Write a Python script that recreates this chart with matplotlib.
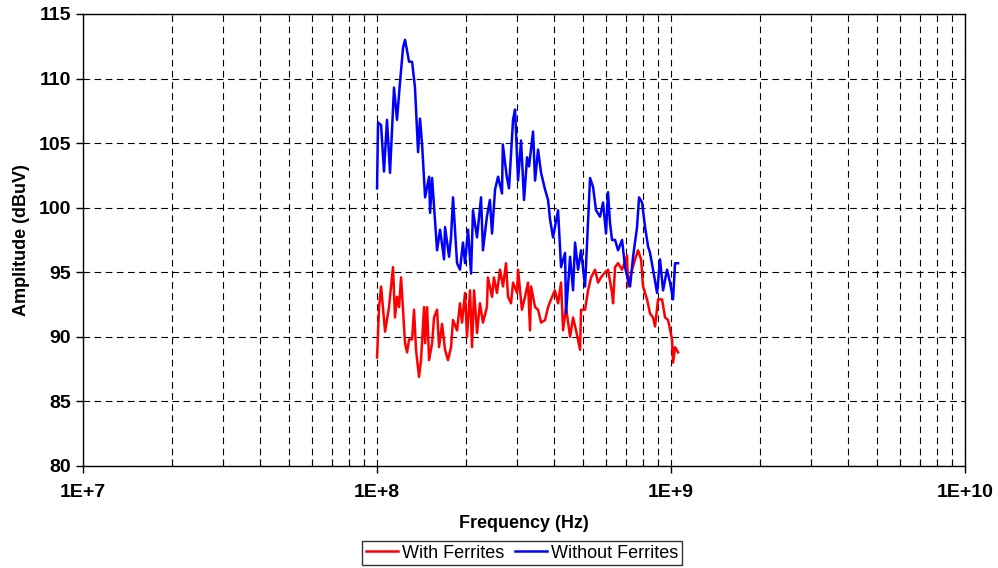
import matplotlib
matplotlib.use("Agg")
import numpy as np
from matplotlib import pyplot as plt
from matplotlib.ticker import LogLocator, FuncFormatter, NullFormatter

plt.rcParams['font.family'] = ['Liberation Sans', 'DejaVu Sans']

# frequencies in MHz, amplitudes in dBuV
freq_without = [100.0, 100.8, 103.2, 105.6, 108.1, 110.7, 114.2, 116.9, 119.7, 122.6,
                124.5, 128.5, 131.6, 134.6, 137.9, 140.0, 142.3, 145.7, 150.3, 151.5,
                153.9, 160.0, 163.8, 169.0, 170.3, 175.8, 178.5, 181.3, 187.1, 191.5,
                196.0, 199.2, 203.9, 208.8, 212.0, 218.8, 225.8, 229.2, 236.4, 242.0,
                246.1, 252.0, 258.0, 266.1, 267.8, 276.2, 281.1, 290.1, 294.7, 301.7,
                308.9, 316.2, 323.8, 328.9, 339.3, 344.7, 352.9, 361.3, 372.8, 381.6,
                387.6, 396.8, 412.7, 422.5, 436.0, 439.3, 453.5, 464.2, 471.5, 482.7,
                494.1, 509.9, 530.3, 542.9, 555.7, 573.4, 587.0, 600.9, 610.4, 620.0,
                630.0, 645.0, 660.3, 681.3, 697.4, 714.1, 725.4, 742.6, 766.2, 778.3,
                796.8, 815.8, 835.2, 848.3, 868.5, 896.2, 917.4, 939.2, 969.2, 992.2,
                1015.8, 1031.8, 1056.3]
amp_without = [101.5, 106.6, 106.4, 102.8, 106.8, 102.7, 109.3, 106.8, 109.7, 112.4,
               113.0, 111.3, 111.3, 109.3, 104.3, 106.9, 104.9, 100.8, 102.4, 99.6,
               102.3, 96.7, 98.3, 96.0, 98.5, 96.2, 97.7, 100.8, 95.7, 95.2,
               97.3, 95.7, 98.3, 94.9, 99.8, 97.7, 100.8, 96.7, 99.3, 100.6,
               98.0, 101.4, 102.4, 101.1, 104.9, 102.4, 101.5, 106.8, 107.6, 102.1,
               105.2, 100.6, 103.9, 103.2, 105.9, 102.1, 104.5, 102.7, 101.4, 100.6,
               99.1, 97.7, 99.8, 95.4, 96.5, 91.8, 96.2, 93.6, 97.3, 95.2,
               96.7, 93.9, 102.3, 101.6, 99.8, 99.3, 100.4, 98.0, 101.2, 98.8,
               97.5, 97.5, 96.7, 97.5, 95.4, 94.4, 93.9, 96.2, 98.5, 100.8,
               100.4, 98.5, 97.0, 96.5, 95.2, 93.4, 96.0, 93.6, 95.2, 94.2,
               92.9, 95.7, 95.7]

freq_with = [100.0, 101.6, 103.2, 106.5, 109.8, 110.7, 113.3, 115.1, 116.9, 118.8,
             120.7, 124.5, 126.5, 128.5, 131.6, 133.6, 135.7, 138.9, 141.1, 144.5,
             145.7, 148.0, 150.3, 153.9, 156.3, 160.0, 162.5, 166.4, 170.3, 174.3,
             178.5, 181.3, 187.1, 191.5, 194.5, 199.2, 202.3, 207.1, 210.4, 213.8,
             218.8, 223.9, 229.2, 236.4, 238.3, 246.1, 249.8, 255.8, 262.0, 268.2,
             274.6, 279.0, 285.6, 290.1, 299.4, 301.7, 311.0, 318.7, 326.2, 331.4,
             334.1, 344.7, 352.9, 361.3, 372.8, 381.6, 390.6, 402.6, 412.7, 422.5,
             429.2, 439.3, 453.5, 464.2, 475.2, 490.4, 494.1, 509.9, 522.1, 534.5,
             551.4, 564.5, 577.9, 596.2, 610.4, 630.0, 635.0, 645.0, 660.3, 681.3,
             708.6, 714.1, 736.9, 754.3, 772.2, 790.6, 803.1, 828.6, 848.3, 868.5,
             882.3, 903.3, 932.0, 954.2, 977.0, 1007.9, 1015.8, 1031.8, 1056.3]
amp_with = [88.4, 92.3, 93.9, 90.4, 92.3, 93.1, 95.4, 91.5, 93.1, 92.3,
            94.6, 89.5, 88.8, 89.8, 89.8, 92.1, 89.0, 86.9, 88.2, 92.3,
            89.5, 92.3, 88.2, 89.5, 91.5, 92.1, 89.2, 91.0, 89.0, 88.2,
            89.2, 91.3, 90.5, 92.6, 91.1, 93.4, 90.0, 93.6, 89.2, 93.6,
            90.3, 92.6, 91.1, 92.3, 94.6, 93.1, 94.6, 93.4, 95.2, 93.9,
            95.7, 93.1, 92.6, 94.2, 93.4, 95.2, 92.1, 93.1, 94.2, 90.5,
            93.9, 92.3, 92.1, 91.1, 91.3, 92.3, 92.9, 93.6, 92.6, 94.2,
            90.5, 92.3, 90.0, 91.5, 90.5, 89.0, 92.1, 92.1, 93.6, 94.6,
            95.2, 94.2, 94.6, 95.0, 95.2, 93.4, 92.6, 95.4, 95.7, 95.2,
            96.3, 93.9, 95.2, 96.0, 96.7, 96.0, 93.9, 92.9, 91.8, 91.5,
            90.8, 92.9, 92.9, 91.5, 91.3, 89.8, 88.0, 89.2, 88.8]

fig = plt.figure(figsize=(9.98, 5.68), dpi=100)
ax = fig.add_axes([0.0832, 0.1796, 0.8838, 0.7958])

ax.plot(np.array(freq_with) * 1e6, amp_with, color='#ff0000', lw=1.8, label='With Ferrites')
ax.plot(np.array(freq_without) * 1e6, amp_without, color='#0000ff', lw=1.8, label='Without Ferrites')

ax.set_xscale('log')
ax.set_xlim(1e7, 1e10)
ax.set_ylim(80, 115)
ax.set_yticks(range(80, 116, 5))
ax.xaxis.set_major_locator(LogLocator(base=10, numticks=10))
ax.xaxis.set_minor_locator(LogLocator(base=10, subs=np.arange(2, 10), numticks=20))
ax.xaxis.set_major_formatter(FuncFormatter(lambda v, p: '1E+%d' % round(np.log10(v))))
ax.xaxis.set_minor_formatter(NullFormatter())

ax.grid(True, which='both', axis='x', color='black', ls=(0, (6, 4)), lw=0.8)
ax.grid(True, which='major', axis='y', color='black', ls=(0, (6, 4)), lw=0.8)
ax.set_axisbelow(True)

ax.tick_params(axis='both', which='major', direction='out', length=5, width=1, labelsize=14)
ax.tick_params(axis='x', which='major', pad=8)
ax.tick_params(axis='x', which='minor', direction='in', length=5, width=0.8)
for lab in ax.get_xticklabels() + ax.get_yticklabels():
    lab.set_fontweight('bold')
for s in ax.spines.values():
    s.set_linewidth(1)

ax.set_xlabel('Frequency (Hz)', fontsize=13, fontweight='bold', labelpad=10)
ax.set_ylabel('Amplitude (dBuV)', fontsize=13, fontweight='bold', labelpad=6)

leg = fig.legend(loc='lower center', bbox_to_anchor=(0.523, 0.005), ncol=2, fontsize=13,
                 frameon=True, fancybox=False, edgecolor='black', handlelength=1.8,
                 handletextpad=0.2, columnspacing=0.6, borderpad=0.2, borderaxespad=0)
leg.get_frame().set_linewidth(1)

fig.savefig('out.png', dpi=100)
